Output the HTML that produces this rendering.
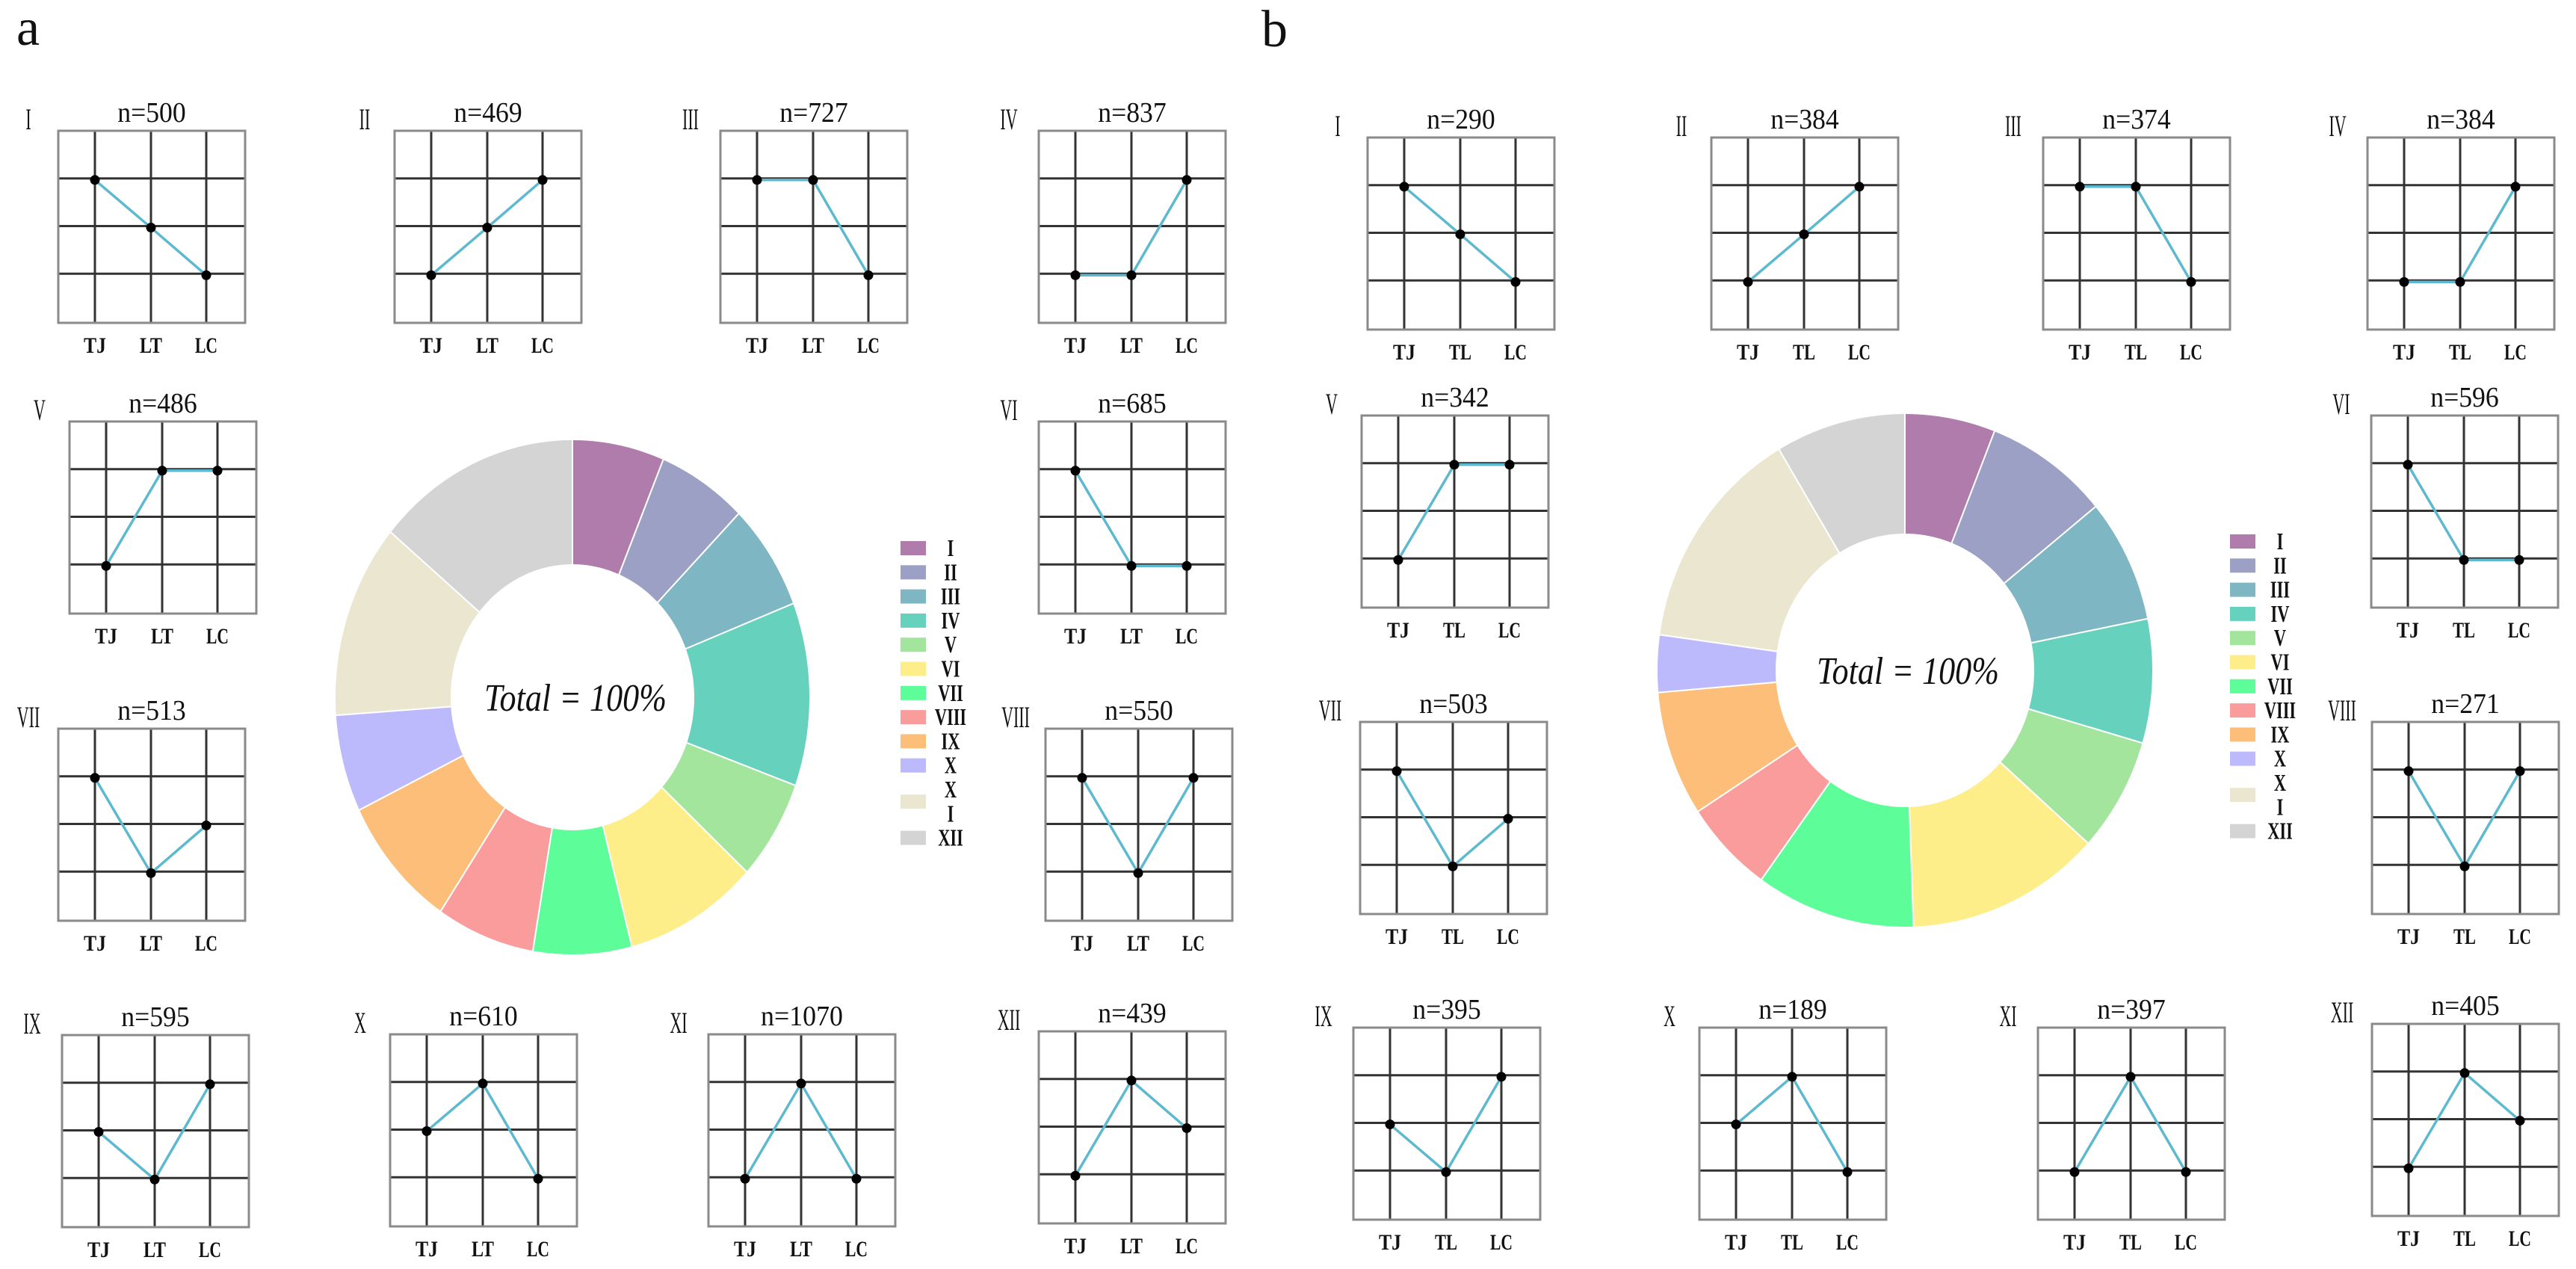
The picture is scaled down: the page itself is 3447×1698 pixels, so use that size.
<!DOCTYPE html>
<html>
<head>
<meta charset="utf-8">
<style>
html,body{margin:0;padding:0;background:#fff;}
svg{display:block;}
text{font-family:"Liberation Serif",serif;fill:#111;}
</style>
</head>
<body>
<svg id="fig" width="3447" height="1698" viewBox="0 0 3447 1698" xmlns="http://www.w3.org/2000/svg">
  <text x="22" y="60" font-size="70">a</text>
  <text x="1688" y="62" font-size="70">b</text>
  <g id="layer"></g>
</svg>
<script>
// ---------- data ----------
const romans = ["I","II","III","IV","V","VI","VII","VIII","IX","X","XI","XII"];
const nA = [500,469,727,837,486,685,513,550,595,610,1070,439];
const nB = [290,384,374,384,342,596,503,271,395,189,397,405];
// pattern levels (1 = low, 3 = high) for TJ, middle, LC
const levelTJ  = [3,1,3,1,1,3,3,3,2,2,1,1];
const levelMid = [2,2,3,1,3,1,1,1,1,3,3,3];
const levelLC  = [1,3,1,3,3,1,2,3,3,1,1,2];
const xLabelsA = ["TJ","LT","LC"];
const xLabelsB = ["TJ","TL","LC"];
// donut slice shares (%)
const shareA = [6.25,6.1,6.7,11.5,6.3,9.1,6.7,6.7,8.4,6.1,12.2,13.9];
const shareB = [5.9,8.1,7.8,7.8,7.2,12.7,10.4,5.9,7.9,3.6,14.3,8.5];
const colors = ["#b07cab","#9ba0c4","#7fb6c4","#66d2be","#a3e59c","#fdee8a","#5dfd99","#fa9c9c","#fdbe7a","#bcbafd","#ebe6cf","#d4d4d4"];

// ---------- layout ----------
const boxesA = [[78,175],[528,175],[964,175],[1390,175],[93,564],[1390,564],[78,975],[1399,975],[83,1385],[522,1384],[948,1384],[1390,1380]];
const boxesB = [[1830,184],[2290,184],[2734,184],[3168,184],[1822,556],[3173,556],[1820,966],[3174,966],[1811,1375],[2274,1375],[2727,1375],[3174,1370]];
const BW = 250, BH = 257;
const NS = "http://www.w3.org/2000/svg";
const layer = document.getElementById('layer');

function mk(tag, attrs, parent){
  const e = document.createElementNS(NS, tag);
  for (const k in attrs) e.setAttribute(k, attrs[k]);
  (parent||layer).appendChild(e);
  return e;
}
function xScale(i){ return [0.196,0.496,0.792][i]*BW; }
function yScale(level){ return (1 - (level*0.248)) * BH + 0; } // level 3 -> 0.256, 2 -> 0.504, 1 -> 0.752

function panel(prefix, idx, pos, n, labels){
  const [x0,y0] = pos;
  const g = mk('g',{});
  
  
  // grid
  [0.248,0.496,0.744].forEach(f=>{
    const l = mk('line',{x1:x0,x2:x0+BW,y1:y0+f*BH,y2:y0+f*BH,stroke:'#333','stroke-width':3},g);
    
    
  });
  [0,1,2].forEach(i=>{
    const l = mk('line',{x1:x0+xScale(i),x2:x0+xScale(i),y1:y0,y2:y0+BH,stroke:'#333','stroke-width':3},g);
    
    
  });
  const r = mk('rect',{x:x0,y:y0,width:BW,height:BH,fill:'none',stroke:'#8a8a8a','stroke-width':3},g);
  
  
  const lv = [levelTJ[idx], levelMid[idx], levelLC[idx]];
  const pts = lv.map((v,i)=>[x0+xScale(i), y0+yScale(v)]);
  const pl = mk('polyline',{points:pts.map(p=>p.join(',')).join(' '),fill:'none',stroke:'#5db9cf','stroke-width':3.5},g);
  
  
  pts.forEach(p=>{
    const c = mk('circle',{cx:p[0],cy:p[1],r:6.5,fill:'#000'},g);
    
    
  });
  // title
  const t = mk('text',{x:x0+BW/2,y:y0-12,'font-size':38,'text-anchor':'middle',textLength:String(n).length*18.5+36,lengthAdjust:'spacingAndGlyphs'},g);
  t.textContent = 'n=' + n;
  
  
  // roman
  const rt = mk('text',{x:0,y:0,'font-size':40,transform:'translate('+(x0-40)+','+(y0-2)+') scale(0.55,1)','text-anchor':'middle'},g);
  rt.textContent = romans[idx];
  
  
  // x labels
  labels.forEach((lb,i)=>{
    const tx = mk('text',{x:x0+xScale(i),y:y0+BH+40,'font-size':30,'font-weight':'bold','text-anchor':'middle',textLength:30,lengthAdjust:'spacingAndGlyphs'},g);
    tx.textContent = lb;
    
    
  });
}

boxesA.forEach((p,i)=>panel('a',i,p,nA[i],xLabelsA));
boxesB.forEach((p,i)=>panel('b',i,p,nB[i],xLabelsB));

function donut(prefix, shares, cx, cy, Rx, Ry, rx, ry){
  const g = mk('g',{});
  
  
  const total = shares.reduce((a,b)=>a+b,0);
  let acc = 0;
  shares.forEach((s,i)=>{
    const a0 = acc/total*2*Math.PI; acc += s; const a1 = acc/total*2*Math.PI;
    const steps = 40; const outer=[], inner=[];
    for(let k=0;k<=steps;k++){
      const a = a0+(a1-a0)*k/steps;
      outer.push([cx+Rx*Math.sin(a), cy-Ry*Math.cos(a)]);
      inner.push([cx+rx*Math.sin(a), cy-ry*Math.cos(a)]);
    }
    const d = 'M'+outer.map(p=>p[0].toFixed(1)+','+p[1].toFixed(1)).join('L') + 'L' + inner.reverse().map(p=>p[0].toFixed(1)+','+p[1].toFixed(1)).join('L') + 'Z';
    const path = mk('path',{d:d,fill:colors[i],stroke:'#fff','stroke-width':2},g);
    
    
  });
  const t = mk('text',{x:cx+4,y:cy+18,'font-size':52,'font-style':'italic','text-anchor':'middle',textLength:244,lengthAdjust:'spacingAndGlyphs'},g);
  t.textContent = 'Total = 100%';
  
  
}
donut('a', shareA, 766, 933, 318, 345, 162, 177);
donut('b', shareB, 2549, 897, 332, 344, 172, 182);

function legend(prefix, sx, tx, y0){
  const g = mk('g',{});
  
  
  const step = 32.3;
  const textRows = ["I","II","III","IV","V","VI","VII","VIII","IX","X","X","I","XII"];
  textRows.forEach((r,k)=>{
    const t = mk('text',{x:0,y:0,'font-size':32,transform:'translate('+tx+','+(y0+k*step+11)+') scale(0.7,1)','text-anchor':'middle','font-weight':'bold'},g);
    t.textContent = r;
    
    
  });
  const swRow = [0,1,2,3,4,5,6,7,8,9,10.5,12];
  swRow.forEach((k,i)=>{
    const s = mk('rect',{x:sx,y:y0+k*step-9,width:34,height:19,fill:colors[i]},g);
    
    
  });
}
legend('a', 1205, 1272, 733);
legend('b', 2984, 3051, 724);
</script>
</body>
</html>
